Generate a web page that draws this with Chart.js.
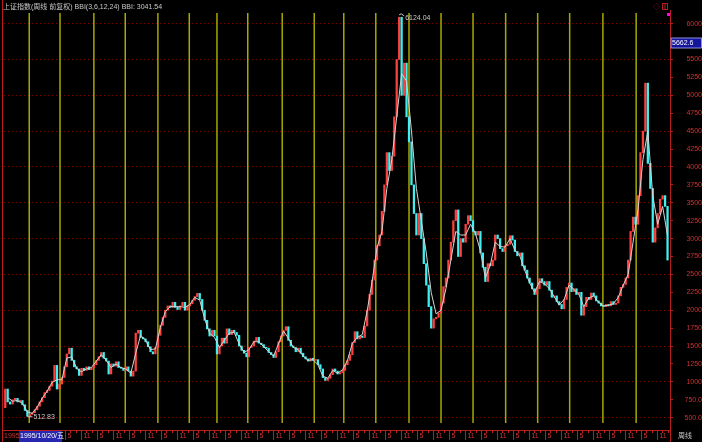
<!DOCTYPE html>
<html lang="zh">
<head>
<meta charset="UTF-8">
<title>上证指数 周线</title>
<script src="https://cdn.jsdelivr.net/npm/chart.js"></script>
<style>
    body { margin: 0; background: #000; overflow: hidden; }
    canvas { display: block; }
</style>
</head>
<body>
<canvas id="chart" width="702" height="442"></canvas>
<script>
// weekly index: sample i sits at week 4*i+2
const firstOpen = 640;
const closes = [
    900, 720, 690, 750, 770, 720, 740, 680, 600, 520,
    545, 570, 610, 660, 720, 780, 850, 880, 940, 1010,
    1230, 900, 970, 1060, 1210, 1390, 1470, 1300, 1210, 1180,
    1090, 1190, 1160, 1210, 1170, 1200, 1240, 1300, 1350, 1410,
    1330, 1290, 1110, 1250, 1220, 1280, 1200, 1190, 1160, 1210,
    1150, 1080, 1150, 1680, 1720, 1620, 1600, 1560, 1490, 1420,
    1390, 1480, 1650, 1790, 1900, 2000, 2060, 2040, 2110, 2040,
    2010, 2060, 2110, 2000, 2060, 2090, 2140, 2190, 2235, 2150,
    2000, 1860, 1740, 1640, 1720, 1640, 1390, 1500, 1610, 1540,
    1740, 1660, 1720, 1690, 1650, 1500, 1440, 1400, 1350, 1480,
    1500, 1570, 1620, 1540, 1520, 1480, 1470, 1410, 1380, 1340,
    1420, 1560, 1640, 1720, 1770, 1580, 1500, 1480, 1420, 1470,
    1400, 1350, 1320, 1290, 1330, 1300, 1310, 1240, 1180, 1060,
    1020, 1050, 1100, 1180, 1150, 1110, 1130, 1160, 1240, 1300,
    1380, 1550, 1700, 1600, 1640, 1620, 1780, 2000, 2220, 2420,
    2700, 2900, 3050, 3380, 3750, 4200, 3950, 4150, 4700, 5500,
    6090, 5000, 5450, 4700, 4350, 3750, 3350, 3050, 3350, 3000,
    2650, 2350, 2050, 1750, 1880, 1900, 1960, 2100, 2330, 2450,
    2700, 2950, 3250, 3400, 2750, 3000, 2950, 3200, 3320, 3250,
    3100, 3050, 3100, 2800, 2600, 2400, 2650, 2620, 2700, 3050,
    3000, 2860, 2820, 2900, 2920, 3040, 2980, 2820, 2760, 2800,
    2620, 2560, 2450, 2380, 2300, 2220, 2300, 2440, 2400, 2350,
    2400, 2280, 2180, 2200, 2120, 2080, 2020, 2150, 2320, 2380,
    2260, 2300, 2220, 2250, 1930, 2050, 2180, 2150, 2240, 2200,
    2130, 2100, 2060, 2050, 2080, 2060, 2120, 2080, 2100, 2200,
    2320, 2360, 2450, 2700, 3100, 3300, 3200, 3600, 4200, 4500,
    5170, 4050, 3700, 2950, 3150, 3350, 3550, 3600, 3450, 2700
];
// BBI(3,6,12,24), one value every 8 weeks (week 8*k+6)
const bbi = [
    780, 730, 740, 700, 580, 560, 650, 770, 870, 990,
    1030, 1030, 1330, 1350, 1190, 1140, 1180, 1200, 1290, 1380,
    1300, 1200, 1250, 1200, 1180, 1120, 1400, 1650, 1580, 1450,
    1460, 1760, 1980, 2050, 2050, 2050, 2040, 2080, 2180, 2140,
    1880, 1680, 1620, 1480, 1580, 1680, 1690, 1530, 1410, 1450,
    1560, 1560, 1490, 1420, 1360, 1530, 1710, 1610, 1480, 1450,
    1360, 1300, 1310, 1240, 1080, 1050, 1160, 1120, 1170, 1300,
    1540, 1620, 1660, 1990, 2400, 2870, 3100, 3700, 4100, 4700,
    5300, 5200, 4500, 3700, 3250, 2800, 2250, 1950, 2000, 2300,
    2700, 3100, 3050, 3050, 3200, 3070, 2830, 2450, 2630, 2950,
    2890, 2880, 3000, 2840, 2760, 2560, 2380, 2250, 2400, 2370,
    2300, 2190, 2070, 2150, 2350, 2290, 2220, 2050, 2170, 2200,
    2110, 2060, 2070, 2090, 2180, 2350, 2500, 2950, 3400, 4100,
    4500, 3600, 3200, 3450, 3040
];
const yearLineWeeks = [41, 91, 146, 197, 250, 301, 346, 396, 452, 504, 552, 604, 658, 710, 762, 815, 867, 919, 973, 1027];
const monthLabels = ['5', '11'];
const firstTickWeek = 99, tickStepWeeks = 26;
const peakMark = { week: 642, value: 6124.04 };
const lowMark = { week: 38, value: 512.83 };
const titleText = '上证指数(周线 前复权) BBI(3,6,12,24) BBI: 3041.54';
const cursorDate = '1995/10/20/五';
const cursorValue = '5662.6';

const UP = '#ff4040', DOWN = '#40f0f0', AXIS = '#b81c1c', LABEL = '#cc3333';
const FONT = "7px 'Liberation Sans', 'Noto Sans CJK SC', sans-serif";

const candles = closes.map((c, i) => ({ x: 4 * i + 2, y: [i ? closes[i - 1] : firstOpen, c] }));
const candleColors = closes.map((c, i) => c >= (i ? closes[i - 1] : firstOpen) ? UP : DOWN);
const bbiPoints = bbi.map((v, k) => ({ x: 8 * k + 6, y: v }));

const overlay = {
    id: 'overlay',
    beforeDatasetsDraw(chart) {
        const { ctx, chartArea: a, scales: { x } } = chart;
        ctx.save();
        ctx.strokeStyle = '#a8a800';
        ctx.lineWidth = 1.5;
        yearLineWeeks.forEach(w => {
            const px = x.getPixelForValue(w);
            ctx.beginPath();
            ctx.moveTo(px, a.top + 3);
            ctx.lineTo(px, a.bottom - 7);
            ctx.stroke();
        });
        ctx.restore();
    },
    afterDraw(chart) {
        const { ctx, chartArea: a, scales: { x, y } } = chart;
        const W = chart.width, H = chart.height;
        ctx.save();
        ctx.font = FONT;
        ctx.textBaseline = 'middle';

        // frame lines
        ctx.strokeStyle = AXIS;
        ctx.lineWidth = 1;
        ctx.beginPath();
        ctx.moveTo(a.left - 1.5, 0); ctx.lineTo(a.left - 1.5, H);
        ctx.moveTo(a.left - 2, a.bottom + 0.5); ctx.lineTo(a.right, a.bottom + 0.5);
        ctx.moveTo(a.right + 0.5, a.bottom); ctx.lineTo(a.right + 0.5, H);
        ctx.stroke();

        // title
        ctx.fillStyle = '#c8c8c8';
        ctx.textAlign = 'left';
        ctx.fillText(titleText, 3, 7);

        // icons top right
        ctx.fillStyle = '#b02020';
        ctx.fillText('◇', 653, 7);
        ctx.strokeStyle = '#b02020';
        ctx.strokeRect(662.5, 3.5, 5, 6);
        ctx.beginPath(); ctx.moveTo(665, 3.5); ctx.lineTo(665, 9.5); ctx.stroke();
        ctx.fillStyle = '#ff00ff';
        ctx.fillRect(667, 13, 3, 3);

        // bottom time axis
        ctx.strokeStyle = AXIS;
        ctx.fillStyle = LABEL;
        for (let k = -2; firstTickWeek + k * tickStepWeeks <= x.max; k++) {
            const w = firstTickWeek + k * tickStepWeeks;
            const px = Math.round(x.getPixelForValue(w)) + 0.5;
            ctx.beginPath(); ctx.moveTo(px, a.bottom); ctx.lineTo(px, H - 2); ctx.stroke();
            for (let m = 1; m < 3; m++) {
                const mx = Math.round(x.getPixelForValue(w + m * tickStepWeeks / 3)) + 0.5;
                if (mx < a.right) { ctx.beginPath(); ctx.moveTo(mx, a.bottom); ctx.lineTo(mx, a.bottom + 3); ctx.stroke(); }
            }
            ctx.fillText(monthLabels[(k % 2 + 2) % 2], px + 2, a.bottom + 6.5);
        }
        ctx.fillText('1995', 4, a.bottom + 6.5);
        ctx.fillStyle = '#2626b0';
        ctx.fillRect(19, a.bottom + 1, 43, H - a.bottom - 1);
        ctx.fillStyle = '#ffffff';
        ctx.fillText(cursorDate, 20, a.bottom + 6.5);
        ctx.fillStyle = '#c8c8c8';
        ctx.fillText('周线', 678, a.bottom + 6.5);

        // cursor value box on price axis
        ctx.fillStyle = '#14149c';
        ctx.fillRect(a.right + 1, 38, W - a.right - 1, 10);
        ctx.strokeStyle = '#b0b0ff';
        ctx.lineWidth = 0.8;
        ctx.strokeRect(a.right + 1, 38, W - a.right - 1.5, 10);
        ctx.fillStyle = '#ffffff';
        ctx.fillText(cursorValue, a.right + 2, 43);

        // high / low marks
        ctx.strokeStyle = '#c8c8c8';
        ctx.fillStyle = '#c8c8c8';
        ctx.lineWidth = 1;
        const hx = x.getPixelForValue(peakMark.week), hy = y.getPixelForValue(peakMark.value);
        ctx.beginPath(); ctx.moveTo(hx, hy); ctx.lineTo(hx + 2, hy - 1); ctx.lineTo(hx + 5, hy + 1); ctx.stroke();
        ctx.fillText(peakMark.value.toFixed(2), hx + 6, hy + 3);
        const lx = x.getPixelForValue(lowMark.week), ly = y.getPixelForValue(lowMark.value);
        ctx.beginPath(); ctx.moveTo(lx, ly); ctx.lineTo(lx + 5, ly); ctx.stroke();
        ctx.fillText(lowMark.value.toFixed(2), lx + 6, ly);
        ctx.restore();
    }
};

new Chart(document.getElementById('chart'), {
    type: 'bar',
    data: {
        datasets: [
            {
                type: 'line',
                data: bbiPoints,
                borderColor: '#d4d4d4',
                borderWidth: 1,
                pointRadius: 0,
                tension: 0,
                order: 1
            },
            {
                type: 'bar',
                data: candles,
                backgroundColor: candleColors,
                barThickness: 1.6,
                minBarLength: 1,
                grouped: false,
                order: 2
            }
        ]
    },
    options: {
        responsive: false,
        animation: false,
        devicePixelRatio: 1,
        layout: { padding: { left: 4, top: 10, bottom: 12, right: 0 } },
        plugins: { legend: { display: false }, tooltip: { enabled: false } },
        scales: {
            x: { type: 'linear', min: 0, max: 1082, offset: false, grid: { offset: false }, display: false },
            y: {
                position: 'right',
                min: 328,
                max: 6191,
                afterFit: s => { s.width = 32; },
                ticks: {
                    stepSize: 250,
                    maxTicksLimit: 100,
                    includeBounds: false,
                    autoSkip: false,
                    color: LABEL,
                    font: { family: "'Liberation Sans', sans-serif", size: 7 },
                    crossAlign: 'far',
                    padding: 2,
                    callback: v => v >= 1000 ? String(v) : v.toFixed(1)
                },
                grid: {
                    color: c => c.tick && c.tick.value % 500 === 0 ? '#7a0000' : 'rgba(0,0,0,0)',
                    tickColor: AXIS,
                    tickLength: 3,
                    lineWidth: 1
                },
                border: { color: AXIS, width: 1, dash: [1, 3] }
            }
        }
    },
    plugins: [overlay]
});
</script>
</body>
</html>
